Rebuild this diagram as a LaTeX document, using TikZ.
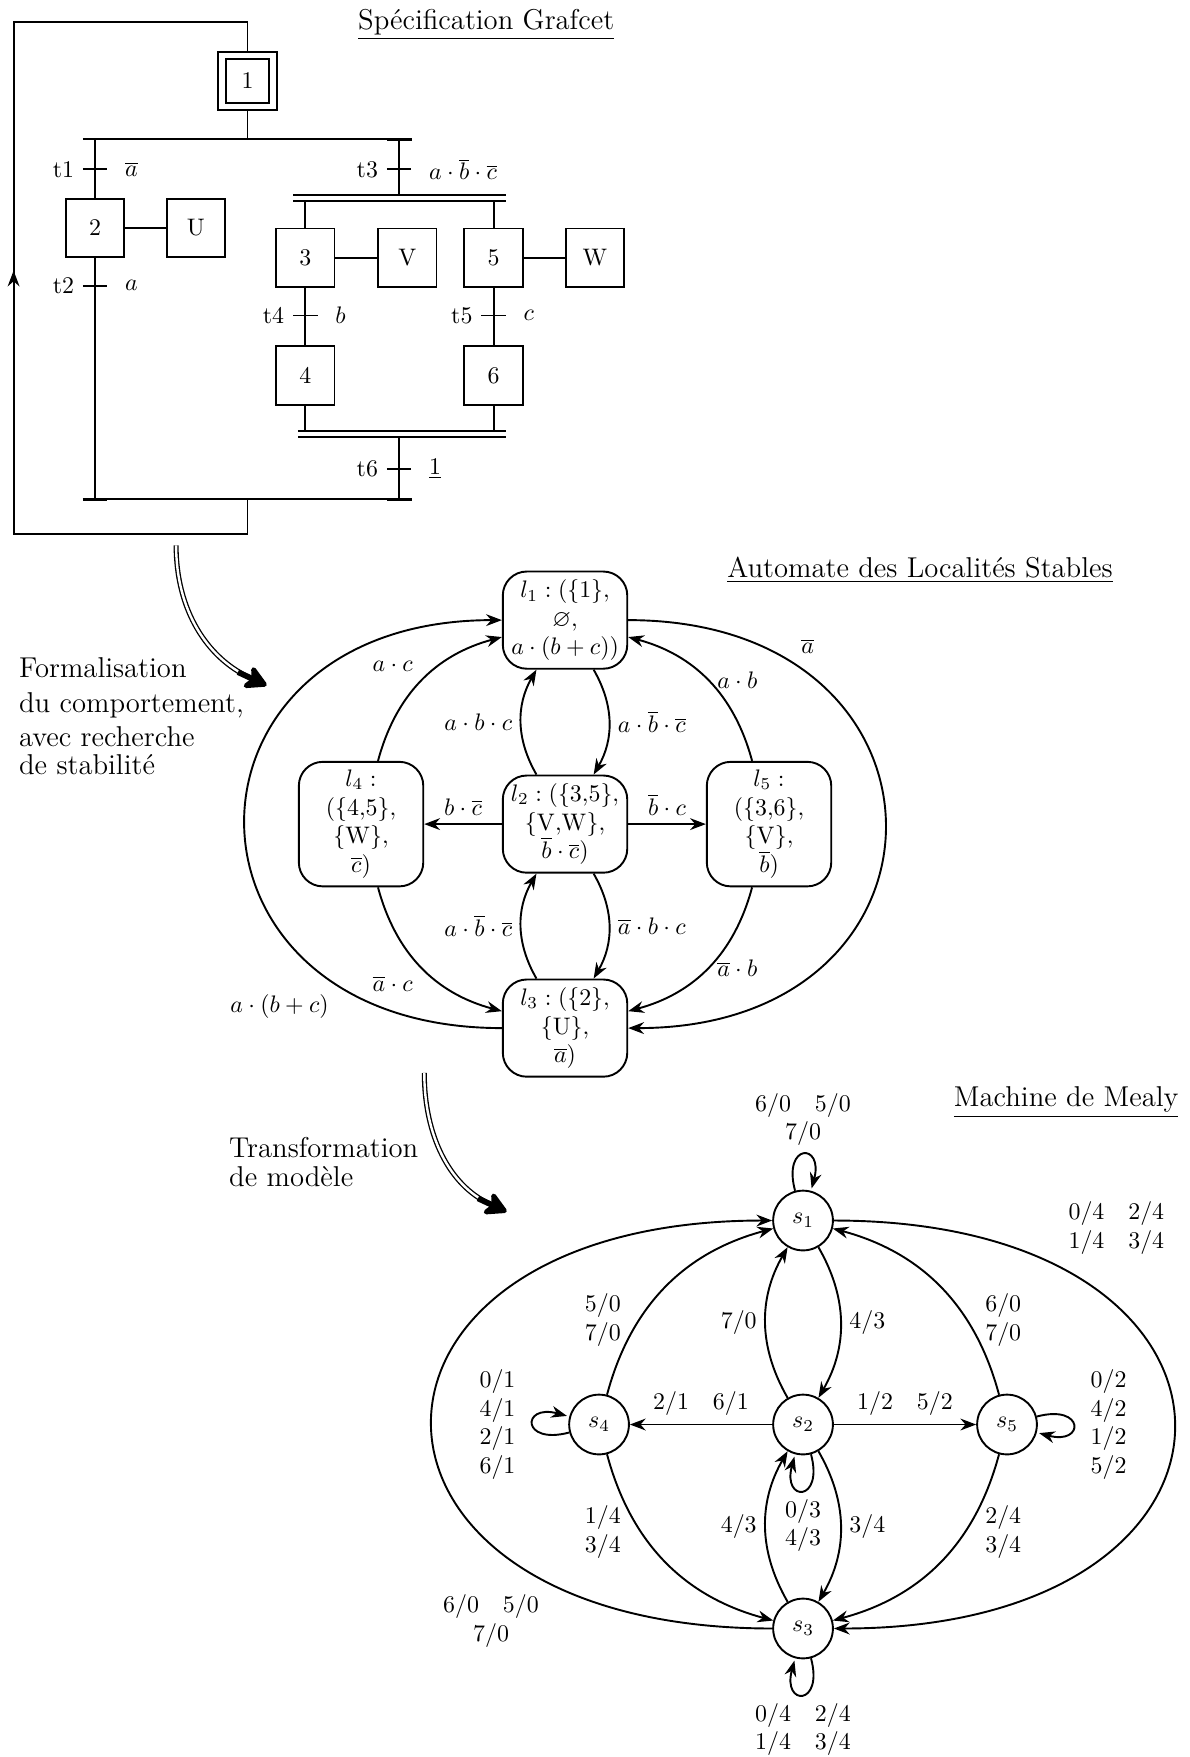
\documentclass[tikz,border=0pt]{standalone}
\usepackage{amssymb}
\usetikzlibrary{arrows.meta,automata,positioning}
\tikzset{
  etape/.style={draw,thick,minimum size=8.6mm,inner sep=0pt},
  etapeinit/.style={etape,double,double distance=2.3pt,minimum size=7.5mm,outer sep=1.6pt},
  loc/.style={draw,thick,rounded corners=10pt,align=center,minimum width=1.83cm},
  titre/.style={font=\large,anchor=base},
  fleche/.style={line width=0.55pt,double,double distance=1pt,shorten >=8pt},
  pointe/.style={line width=2.4pt,-{Stealth[round,length=11pt,width=12pt,inset=3pt]}},
}
\begin{document}
\begin{tikzpicture}[thick,>=Stealth,auto,align=center,node distance=3cm,on grid]
\useasboundingbox (0,0) rectangle (17.5,-25.84);
% Grafcet
\node[titre] (tG) at (7.15,-0.43) {\underline{Spécification Grafcet}};
\node[etapeinit] (e1) at (3.64,-1.19) {1};
\node[etape] (e2) at (1.4,-3.35) {2};
\node[etape] (aU) at (2.88,-3.35) {U};
\node[etape] (e3) at (4.49,-3.79) {3};
\node[etape] (aV) at (5.99,-3.79) {V};
\node[etape] (e5) at (7.26,-3.79) {5};
\node[etape] (aW) at (8.75,-3.79) {W};
\node[etape] (e4) at (4.49,-5.52) {4};
\node[etape] (e6) at (7.26,-5.52) {6};
\draw (e2) -- (aU);
\draw (e3) -- (aV);
\draw (e5) -- (aW);
\draw (e1) -- (3.64,-2.05);
\draw (1.22,-2.05) -- (6.06,-2.05);
\draw[very thick] (5.69,-2.05) -- (6.06,-2.05);
\draw (1.4,-2.05) -- (e2);
\draw (e2) -- (1.4,-7.34);
\draw (5.87,-2.05) -- (5.87,-2.87);
\draw[double,double distance=1.5pt] (4.31,-2.91) -- (7.44,-2.91);
\draw (4.49,-2.95) -- (e3);
\draw (7.26,-2.95) -- (e5);
\draw (e3) -- (e4);
\draw (e5) -- (e6);
\draw (e4) -- (4.49,-6.33);
\draw (e6) -- (7.26,-6.33);
\draw[double,double distance=1.5pt] (4.38,-6.38) -- (7.44,-6.38);
\draw (5.87,-6.42) -- (5.87,-7.34);
\draw (1.22,-7.34) -- (6.06,-7.34);
\draw[very thick] (1.22,-7.34) -- (1.57,-7.34);
\draw[very thick] (5.69,-7.34) -- (6.06,-7.34);
\draw (3.64,-7.34) -- (3.64,-7.86) -- (0.2,-7.86) -- (0.2,-0.33) -- (3.64,-0.33) -- (e1);
\draw[->] (0.2,-4.5) -- (0.2,-3.98);
\draw (1.22,-2.49) -- (1.58,-2.49);
\node[left] (nt1) at (1.22,-2.49) {t1};\node[right] (ct1) at (1.71,-2.49) {$\overline{a}$};
\draw (1.22,-4.2) -- (1.58,-4.2);
\node[left] (nt2) at (1.22,-4.2) {t2};\node[right] (ct2) at (1.71,-4.2) {$a$};
\draw (5.69,-2.49) -- (6.05,-2.49);
\node[left] (nt3) at (5.69,-2.49) {t3};\node[right] (ct3) at (6.18,-2.49) {$a\cdot\overline{b}\cdot\overline{c}$};
\draw (4.31,-4.64) -- (4.67,-4.64);
\node[left] (nt4) at (4.31,-4.64) {t4};\node[right] (ct4) at (4.8,-4.64) {$b$};
\draw (7.08,-4.64) -- (7.44,-4.64);
\node[left] (nt5) at (7.08,-4.64) {t5};\node[right] (ct5) at (7.57,-4.64) {$c$};
\draw (5.69,-6.9) -- (6.05,-6.9);
\node[left] (nt6) at (5.69,-6.9) {t6};\node[right] (ct6) at (6.18,-6.9) {$\underline{1}$};
% premiere transformation
\coordinate (f1a) at (2.59,-8.02);
\coordinate (f1b) at (3.92,-10.08);
\coordinate (f1c) at (3.5,-9.885);
\draw[fleche] (f1a) to[out=-90,in=155] (f1b);
\draw[pointe] (f1c) -- (f1b);
\node[font=\large,align=left,anchor=north west] (txt1) at (0.15,-9.54) {Formalisation\\[0.7pt]du comportement,\\[0.2pt]avec recherche\\[-2.4pt]de stabilité};
% Automate des localites stables
\node[titre] (tA) at (13.53,-8.49) {\underline{Automate des Localités Stables}};
\node[loc] (l2) at (8.31,-12.12) {$l_2 : (\{3{,}5\},$\\$\{\mathrm{V{,}W}\},$\\$\overline{b}\cdot\overline{c})$};
\node[loc,above=of l2] (l1) {$l_1 : (\{1\},$\\$\varnothing,$\\$a\cdot(b+c))$};
\node[loc,below=of l2] (l3) {$l_3 : (\{2\},$\\$\{\mathrm{U}\},$\\$\overline{a})$};
\node[loc,left=of l2] (l4) {$l_4 :$\\$(\{4{,}5\},$\\$\{\mathrm{W}\},$\\$\overline{c})$};
\node[loc,right=of l2] (l5) {$l_5 :$\\$(\{3{,}6\},$\\$\{\mathrm{V}\},$\\$\overline{b})$};
\path[->]
  (l1) edge[bend left] node {$a\cdot\overline{b}\cdot\overline{c}$} (l2)
  (l2) edge[bend left] node {$a\cdot b\cdot c$} (l1)
  (l2) edge node[swap] {$b\cdot\overline{c}$} (l4)
  (l2) edge node {$\overline{b}\cdot c$} (l5)
  (l2) edge[bend left] node {$\overline{a}\cdot b\cdot c$} (l3)
  (l3) edge[bend left] node {$a\cdot\overline{b}\cdot\overline{c}$} (l2)
  (l4) edge[bend left] node {$a\cdot c$} (l1)
  (l5) edge[bend right] node[swap,yshift=-0.24cm] {$a\cdot b$} (l1)
  (l4) edge[bend right] node[swap] {$\overline{a}\cdot c$} (l3)
  (l5) edge[bend left] node[yshift=0.24cm] {$\overline{a}\cdot b$} (l3)
  (l1) edge[out=0,in=0,looseness=2.15] node[pos=0.2] {$\overline{a}$} (l3)
  (l3) edge[out=180,in=180,looseness=2.15] node[pos=0.2] {$a\cdot(b+c)$} (l1);
% deuxieme transformation
\coordinate (f2a) at (6.24,-15.78);
\coordinate (f2b) at (7.45,-17.82);
\coordinate (f2c) at (7.03,-17.625);
\draw[fleche] (f2a) to[out=-90,in=155] (f2b);
\draw[pointe] (f2c) -- (f2b);
\node[font=\large,align=left,anchor=north west] (txt2) at (3.24,-16.6) {Transformation\\[-2.1pt]de modèle};
% Machine de Mealy
\node[titre] (tM) at (15.68,-16.28) {\underline{Machine de Mealy}};
\node[state] (s2) at (11.81,-20.95) {$s_2$};
\node[state,above=of s2] (s1) {$s_1$};
\node[state,below=of s2] (s3) {$s_3$};
\node[state,left=of s2] (s4) {$s_4$};
\node[state,right=of s2] (s5) {$s_5$};
\path[->]
  (s1) edge[loop above] node {$6/0\quad 5/0$\\$7/0$} ()
  (s2) edge[loop below] node {$0/3$\\$4/3$} ()
  (s3) edge[loop below] node {$0/4\quad 2/4$\\$1/4\quad 3/4$} ()
  (s4) edge[loop left] node[xshift=-0.13cm] {$0/1$\\$4/1$\\$2/1$\\$6/1$} ()
  (s5) edge[loop right] node[xshift=0.13cm] {$0/2$\\$4/2$\\$1/2$\\$5/2$} ()
  (s2) edge node[swap] {$2/1\quad 6/1$} (s4)
  (s2) edge node {$1/2\quad 5/2$} (s5)
  (s1) edge[bend left] node {$4/3$} (s2)
  (s2) edge[bend left] node {$7/0$} (s1)
  (s2) edge[bend left] node {$3/4$} (s3)
  (s3) edge[bend left] node {$4/3$} (s2)
  (s4) edge[bend left] node[pos=0.2,xshift=0.07cm,yshift=-0.14cm] {$5/0$\\$7/0$} (s1)
  (s5) edge[bend right] node[pos=0.2,swap,xshift=-0.07cm,yshift=-0.14cm] {$6/0$\\$7/0$} (s1)
  (s4) edge[bend right] node[pos=0.2,swap,xshift=0.07cm,yshift=0.1cm] {$1/4$\\$3/4$} (s3)
  (s5) edge[bend left] node[pos=0.2,xshift=-0.07cm,yshift=0.1cm] {$2/4$\\$3/4$} (s3)
  (s1) edge[out=0,in=0,looseness=2.85] node[pos=0.2,xshift=0.12cm] {$0/4\quad 2/4$\\$1/4\quad 3/4$} (s3)
  (s3) edge[out=180,in=180,looseness=2.85] node[pos=0.2,xshift=-0.1cm] {$6/0\quad 5/0$\\$7/0$} (s1);
\end{tikzpicture}
\end{document}
